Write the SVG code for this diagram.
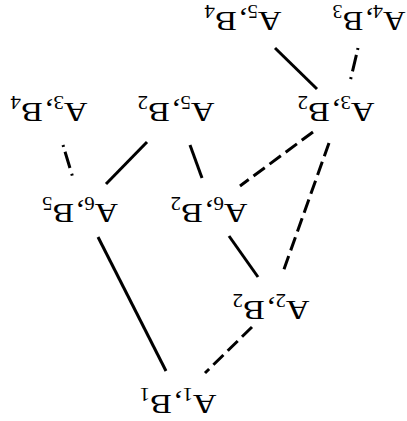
<svg xmlns="http://www.w3.org/2000/svg" width="407" height="421" viewBox="0 0 407 421">
<style>
.lbl{font-family:"Liberation Serif","Times New Roman",serif;font-size:28px;fill:#000;text-anchor:middle}
.sub{font-size:18px}
.e{stroke:#000;stroke-width:3;fill:none}
.d{stroke-dasharray:14 6}
</style>
<rect width="407" height="421" fill="#fff"/>
<g id="connectors">
<line class="e" x1="275" y1="48" x2="317" y2="89"/>
<line class="e" x1="358" y1="48" x2="350" y2="82" stroke-dasharray="2 5 17 6 2 100"/>
<line class="e" x1="63" y1="145" x2="73" y2="178" stroke-dasharray="2 5 17 6 2 100"/>
<line class="e" x1="147" y1="142" x2="106" y2="184"/>
<line class="e" x1="190" y1="145" x2="202" y2="178"/>
<line class="e d" x1="313" y1="132" x2="240" y2="186"/>
<line class="e d" x1="329" y1="143" x2="283" y2="272"/>
<line class="e" x1="98" y1="237" x2="166" y2="371"/>
<line class="e" x1="229" y1="236" x2="258" y2="277"/>
<line class="e d" x1="252" y1="327" x2="205" y2="373"/>
</g>
<g id="A5B4"><text class="lbl" x="243" y="30" textLength="77" lengthAdjust="spacingAndGlyphs" transform="rotate(180 243 21)">A<tspan class="sub" dy="7">5</tspan><tspan dy="-7">,</tspan><tspan dx="2">B</tspan><tspan class="sub" dy="7">4</tspan></text></g>
<g id="A4B3"><text class="lbl" x="369" y="30" textLength="73" lengthAdjust="spacingAndGlyphs" transform="rotate(180 369 21)">A<tspan class="sub" dy="7">4</tspan><tspan dy="-7">,</tspan><tspan dx="2">B</tspan><tspan class="sub" dy="7">3</tspan></text></g>
<g id="A3B4"><text class="lbl" x="49" y="121" textLength="77" lengthAdjust="spacingAndGlyphs" transform="rotate(180 49 112)">A<tspan class="sub" dy="7">3</tspan><tspan dy="-7">,</tspan><tspan dx="2">B</tspan><tspan class="sub" dy="7">4</tspan></text></g>
<g id="A5B2"><text class="lbl" x="176" y="121" textLength="77" lengthAdjust="spacingAndGlyphs" transform="rotate(180 176 112)">A<tspan class="sub" dy="7">5</tspan><tspan dy="-7">,</tspan><tspan dx="2">B</tspan><tspan class="sub" dy="7">2</tspan></text></g>
<g id="A3B2"><text class="lbl" x="336" y="121" textLength="77" lengthAdjust="spacingAndGlyphs" transform="rotate(180 336 112)">A<tspan class="sub" dy="7">3</tspan><tspan dy="-7">,</tspan><tspan dx="2">B</tspan><tspan class="sub" dy="7">2</tspan></text></g>
<g id="A6B5"><text class="lbl" x="80" y="222" textLength="76" lengthAdjust="spacingAndGlyphs" transform="rotate(180 80 213)">A<tspan class="sub" dy="7">6</tspan><tspan dy="-7">,</tspan><tspan dx="2">B</tspan><tspan class="sub" dy="7">5</tspan></text></g>
<g id="A6B2"><text class="lbl" x="209" y="222" textLength="77" lengthAdjust="spacingAndGlyphs" transform="rotate(180 209 213)">A<tspan class="sub" dy="7">6</tspan><tspan dy="-7">,</tspan><tspan dx="2">B</tspan><tspan class="sub" dy="7">2</tspan></text></g>
<g id="A2B2"><text class="lbl" x="271" y="319" textLength="77" lengthAdjust="spacingAndGlyphs" transform="rotate(180 271 310)">A<tspan class="sub" dy="7">2</tspan><tspan dy="-7">,</tspan><tspan dx="2">B</tspan><tspan class="sub" dy="7">2</tspan></text></g>
<g id="A1B1"><text class="lbl" x="178" y="413" textLength="77" lengthAdjust="spacingAndGlyphs" transform="rotate(180 178 404)">A<tspan class="sub" dy="7">1</tspan><tspan dy="-7">,</tspan><tspan dx="2">B</tspan><tspan class="sub" dy="7">1</tspan></text></g>
</svg>
